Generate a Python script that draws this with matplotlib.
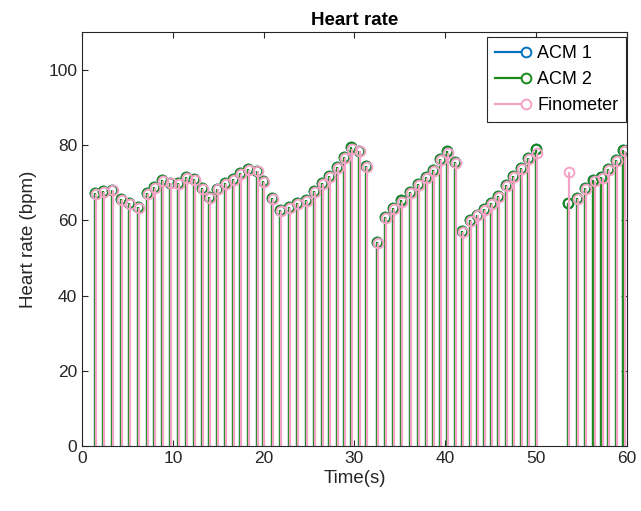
import matplotlib
matplotlib.use("Agg")
import matplotlib.pyplot as plt
from matplotlib.lines import Line2D
from matplotlib.legend_handler import HandlerBase

# Beat times (s) and beat-to-beat heart rate (bpm)
acm_time = [1.43, 2.31, 3.30, 4.30, 5.18, 6.17, 7.16, 7.93, 8.81, 9.69,
            10.57, 11.45, 12.33, 13.22, 13.99, 14.87, 15.75, 16.63, 17.40, 18.28,
            19.27, 19.93, 20.93, 21.81, 22.80, 23.68, 24.67, 25.55, 26.43, 27.20,
            28.08, 28.85, 29.63, 30.51, 31.28, 32.49, 33.37, 34.25, 35.13, 36.12,
            37.00, 37.89, 38.66, 39.40, 40.20, 41.08, 41.85, 42.73, 43.50, 44.27,
            45.04, 45.81, 46.70, 47.47, 48.35, 49.12, 50.00,
            53.52, 54.50, 55.40, 56.30, 57.20, 57.90, 58.80, 59.60]

acm1_hr = [67.3, 67.8, 68.1, 65.7, 64.6, 63.6, 67.3, 68.9, 70.7, 69.9,
           69.9, 71.5, 71.0, 68.6, 66.2, 68.4, 69.9, 71.0, 72.6, 73.7,
           73.1, 70.5, 66.0, 62.8, 63.6, 64.6, 65.4, 67.8, 69.9, 71.8,
           74.2, 76.9, 79.5, 78.5, 74.5, 54.3, 60.9, 63.3, 65.3, 67.6,
           69.7, 71.5, 73.4, 76.3, 78.5, 75.5, 57.2, 60.0, 61.5, 63.0,
           64.5, 66.5, 69.5, 71.8, 74.0, 76.5, 79.0,
           64.6, 66.0, 68.6, 70.7, 71.5, 73.7, 76.1, 78.7]

acm2_hr = [67.3, 67.8, 68.1, 65.7, 64.6, 63.6, 67.3, 68.9, 70.7, 69.9,
           69.9, 71.5, 71.0, 68.6, 66.2, 68.4, 69.9, 71.0, 72.6, 73.7,
           73.1, 70.5, 66.0, 62.8, 63.6, 64.6, 65.4, 67.8, 69.9, 71.8,
           74.2, 76.9, 79.5, 78.5, 74.5, 54.3, 60.9, 63.3, 65.3, 67.6,
           69.7, 71.5, 73.4, 76.3, 78.5, 75.5, 57.2, 60.0, 61.5, 63.0,
           64.5, 66.5, 69.5, 71.8, 74.0, 76.5, 79.0,
           64.6, 66.0, 68.6, 70.7, 71.5, 73.7, 76.1, 78.7]

fino_time = [1.58, 2.46, 3.45, 4.45, 5.33, 6.32, 7.31, 8.08, 8.96, 9.84,
             10.72, 11.60, 12.48, 13.37, 14.14, 15.02, 15.90, 16.78, 17.55, 18.43,
             19.42, 20.08, 21.08, 21.96, 22.95, 23.83, 24.82, 25.70, 26.58, 27.35,
             28.23, 29.00, 29.78, 30.66, 31.43, 32.64, 33.52, 34.40, 35.28, 36.27,
             37.15, 38.04, 38.81, 39.55, 40.35, 41.23, 42.00, 42.88, 43.65, 44.42,
             45.19, 45.96, 46.85, 47.62, 48.50, 49.27, 50.15,
             53.67, 54.65, 55.55, 56.45, 57.35, 58.05, 58.95, 59.75]

fino_hr = [67.0, 67.5, 68.0, 65.5, 64.3, 63.4, 67.0, 68.7, 70.5, 69.8,
           69.7, 71.2, 70.8, 68.4, 66.0, 68.2, 69.6, 70.8, 72.3, 73.4,
           73.0, 70.3, 65.8, 62.6, 63.4, 64.4, 65.2, 67.6, 69.6, 71.5,
           73.9, 76.6, 79.0, 78.3, 74.3, 54.0, 60.6, 63.0, 65.0, 67.3,
           69.4, 71.2, 73.1, 76.0, 78.0, 75.3, 57.0, 59.8, 61.3, 62.8,
           64.3, 66.3, 69.2, 71.5, 73.7, 76.2, 77.9,
           72.9, 65.8, 68.4, 70.5, 71.3, 73.5, 75.8, 78.3]

series = [
    ("ACM 1", acm_time, acm1_hr, "#0072BD"),
    ("ACM 2", acm_time, acm2_hr, "#1a8a1a"),
    ("Finometer", fino_time, fino_hr, "#f4a3c6"),
]

axis_color = "#262626"
plt.rcParams["font.family"] = ["Liberation Sans", "DejaVu Sans"]


class StemKeyHandler(HandlerBase):
    """Legend key: a horizontal stem with an open circle at its right end."""

    def create_artists(self, legend, orig_handle, xdescent, ydescent,
                       width, height, fontsize, trans):
        y = height / 2 - ydescent
        x0, x1 = -xdescent, width - xdescent
        color = orig_handle.get_color()
        line = Line2D([x0, x1], [y, y], color=color,
                      lw=orig_handle.get_linewidth(), transform=trans)
        mark = Line2D([x1], [y], color=color, ls="none", marker="o",
                      markersize=orig_handle.get_markersize(),
                      markerfacecolor="white",
                      markeredgewidth=orig_handle.get_markeredgewidth(),
                      transform=trans)
        return [line, mark]


fig = plt.figure(figsize=(6.41, 5.11), dpi=100)
ax = fig.add_axes([0.128, 0.127, 0.850, 0.810])

handles = []
for label, t, hr, color in series:
    markers, stems, base = ax.stem(t, hr, basefmt=" ")
    stems.set_color(color)
    stems.set_linewidth(1.6)
    markers.set_color(color)
    markers.set_markerfacecolor("none")
    markers.set_markersize(7)
    markers.set_markeredgewidth(1.4)
    handles.append(Line2D([], [], color=color, lw=1.6, marker="o",
                          markersize=7, markeredgewidth=1.4, label=label))

ax.set_xlim(0, 60)
ax.set_ylim(0, 110)
ax.set_xticks(range(0, 61, 10))
ax.set_yticks(range(0, 101, 20))
ax.tick_params(direction="in", length=4, labelsize=12.5, colors=axis_color,
               top=True, right=True, labeltop=False, labelright=False)
for sp in ax.spines.values():
    sp.set_color(axis_color)
    sp.set_linewidth(0.8)

ax.set_title("Heart rate", fontsize=13.5, fontweight="bold", color="black", pad=5)
ax.set_xlabel("Time(s)", fontsize=13.5, color=axis_color, labelpad=3)
ax.set_ylabel("Heart rate (bpm)", fontsize=13.5, color=axis_color, labelpad=8)

leg = ax.legend(handles=handles, loc="upper right",
                bbox_to_anchor=(0.999, 0.988),
                handler_map={Line2D: StemKeyHandler()},
                fontsize=13, handlelength=1.75, handletextpad=0.6,
                borderaxespad=0.0, frameon=True, fancybox=False,
                labelspacing=0.5, borderpad=0.45, framealpha=1)
leg.get_frame().set_edgecolor(axis_color)
leg.get_frame().set_linewidth(0.8)

fig.savefig("out.png", dpi=100)
